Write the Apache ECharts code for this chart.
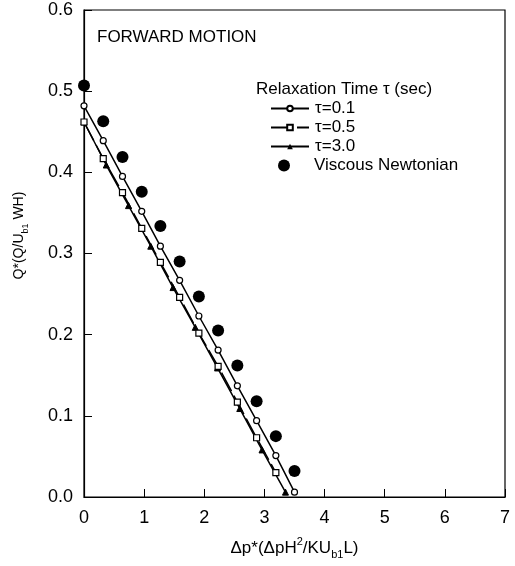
<!DOCTYPE html>
<html>
<head>
<meta charset="utf-8">
<script src="https://cdn.jsdelivr.net/npm/echarts@6/dist/echarts.min.js"></script>
<style>
  html, body { margin: 0; padding: 0; background: #fff; }
  #chart { width: 515px; height: 566px; }
</style>
</head>
<body>
<div id="chart"></div>
<script>
// values
const xTicks = [0, 1, 2, 3, 4, 5, 6, 7];
const yTicks = [0.0, 0.1, 0.2, 0.3, 0.4, 0.5, 0.6];

const x01 = [0, 0.32, 0.64, 0.96, 1.27, 1.59, 1.91, 2.23, 2.55, 2.87, 3.19, 3.5];
const tau01 = [0.482, 0.439, 0.395, 0.352, 0.309, 0.267, 0.223, 0.181, 0.137, 0.094, 0.051, 0.006];

const x05 = [0, 0.32, 0.64, 0.96, 1.27, 1.59, 1.91, 2.23, 2.55, 2.87, 3.19];
const tau05 = [0.462, 0.417, 0.375, 0.331, 0.289, 0.246, 0.202, 0.161, 0.117, 0.073, 0.030];

const x30 = [0, 0.37, 0.74, 1.11, 1.48, 1.85, 2.22, 2.59, 2.96, 3.35];
const tau30 = [0.462, 0.409, 0.359, 0.309, 0.258, 0.209, 0.159, 0.109, 0.058, 0.006];

const xNewt = [0, 0.32, 0.64, 0.96, 1.27, 1.59, 1.91, 2.23, 2.55, 2.87, 3.19, 3.5];
const newtonian = [0.507, 0.463, 0.419, 0.376, 0.334, 0.290, 0.247, 0.205, 0.162, 0.118, 0.075, 0.032];

const lineNames = ['\u03c4=0.1', '\u03c4=0.5', '\u03c4=3.0'];
const dotName = 'Viscous Newtonian';

const pairs = (xs, ys) => xs.map((x, i) => [x, ys[i]]);

const font = 'Liberation Sans, Arial, sans-serif';
const chart = echarts.init(document.getElementById('chart'));

// separate object for each legend
const legendText = pad => ({ fontSize: 17, color: '#000', padding: [0, 0, 0, pad] });

chart.setOption({
  backgroundColor: '#fff',
  animation: false,
  textStyle: { fontFamily: font, color: '#000' },
  grid: {
    left: 84, right: 10, top: 10, bottom: 69,
    show: true, borderColor: '#000', borderWidth: 1.2
  },
  graphic: [
    { type: 'text', left: 97, top: 29,
      style: { text: 'FORWARD MOTION', font: '17px ' + font, fill: '#000' } },
    { type: 'text', left: 256, top: 81,
      style: { text: 'Relaxation Time \u03c4 (sec)', font: '17px ' + font, fill: '#000' } }
  ],
  legend: [
    {
      orient: 'vertical',
      left: 265, top: 95,
      itemWidth: 38, itemHeight: 7, itemGap: 2,
      textStyle: legendText(1),
      data: lineNames
    },
    {
      orient: 'vertical',
      left: 273, top: 152,
      itemWidth: 38, itemHeight: 12,
      textStyle: legendText(6),
      data: [dotName]
    }
  ],
  xAxis: {
    type: 'value', min: 0, max: 7, interval: 1,
    name: '{t|\u0394p*(\u0394pH}{sup|2}{t|/KU}{sub|b1}{t|L)}',
    nameLocation: 'middle', nameGap: 39,
    nameTextStyle: {
      rich: {
        t: { fontSize: 17, color: '#000', fontFamily: font, lineHeight: 24 },
        sup: { fontSize: 11, color: '#000', fontFamily: font, verticalAlign: 'top', lineHeight: 24 },
        sub: { fontSize: 11, color: '#000', fontFamily: font, verticalAlign: 'bottom', lineHeight: 24 }
      }
    },
    axisLine: { lineStyle: { color: '#000', width: 1.2 } },
    axisTick: { inside: true, length: 8, lineStyle: { color: '#000' } },
    axisLabel: { fontSize: 18, color: '#000', margin: 12,
      formatter: v => xTicks.includes(v) ? String(v) : '' },
    splitLine: { show: false }
  },
  yAxis: {
    type: 'value', min: 0, max: 0.6, interval: 0.1,
    name: '{t|Q*(Q/U}{sub|b1}{t| WH)}',
    nameLocation: 'middle', nameGap: 54, nameRotate: 90,
    nameTextStyle: {
      padding: [0, 0, 0, 36],
      rich: {
        t: { fontSize: 14, color: '#000', fontFamily: font, lineHeight: 22 },
        sub: { fontSize: 9, color: '#000', fontFamily: font, verticalAlign: 'bottom', lineHeight: 22 }
      }
    },
    axisLine: { lineStyle: { color: '#000', width: 1.2 } },
    axisTick: { inside: true, length: 8, lineStyle: { color: '#000' } },
    axisLabel: { fontSize: 18, color: '#000', margin: 11,
      formatter: v => yTicks.some(t => Math.abs(t - v) < 1e-9) ? v.toFixed(1) : '' },
    splitLine: { show: false }
  },
  series: [
    {
      name: lineNames[0], type: 'line', data: pairs(x01, tau01),
      symbol: 'circle', symbolSize: 6, z: 3,
      lineStyle: { color: '#000', width: 1.5 },
      itemStyle: { color: '#fff', borderColor: '#000', borderWidth: 1.2 }
    },
    {
      name: lineNames[1], type: 'line', data: pairs(x05, tau05),
      symbol: 'rect', symbolSize: 6, z: 3,
      lineStyle: { color: '#000', width: 1.5, type: [21, 5] },
      itemStyle: { color: '#fff', borderColor: '#000', borderWidth: 1.2 }
    },
    {
      name: lineNames[2], type: 'line', data: pairs(x30, tau30),
      symbol: 'triangle', symbolSize: 6, z: 2,
      lineStyle: { color: '#000', width: 1.5 },
      itemStyle: { color: '#000', borderColor: '#000' }
    },
    {
      name: dotName, type: 'scatter', data: pairs(xNewt, newtonian),
      symbol: 'circle', symbolSize: 12, z: 4,
      itemStyle: { color: '#000', opacity: 1 }
    }
  ]
});
</script>
</body>
</html>
